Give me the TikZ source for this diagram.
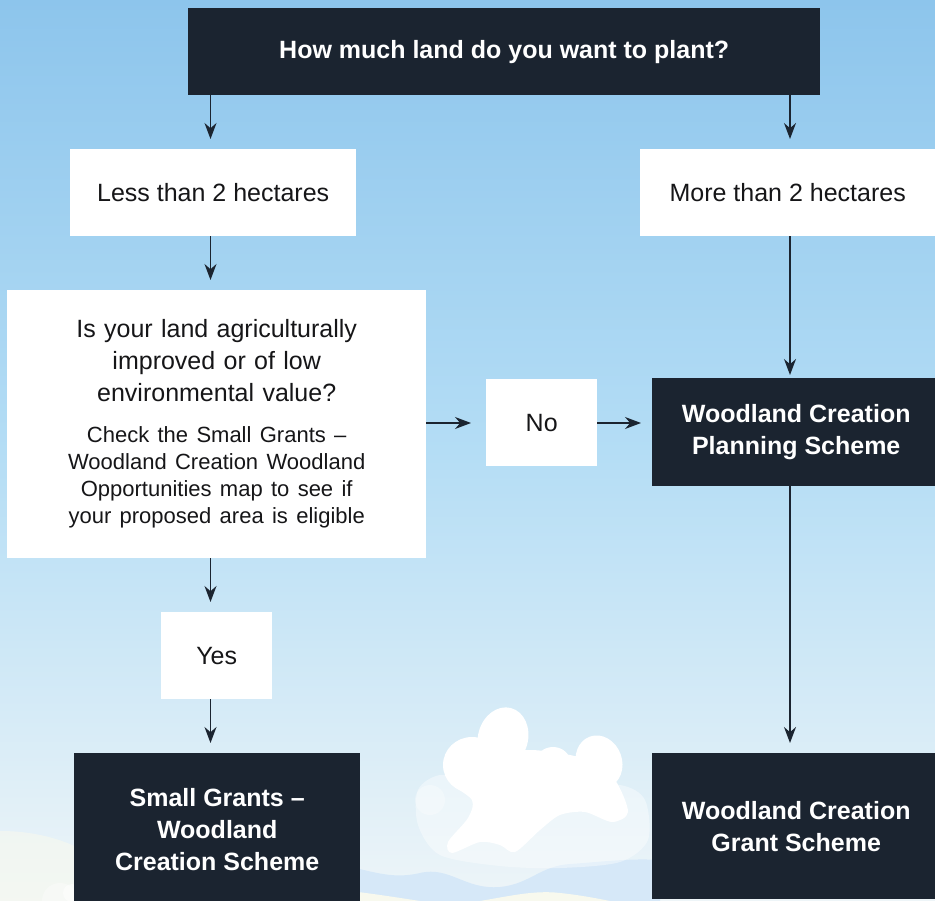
\documentclass[tikz,border=0pt]{standalone}
\usepackage{fontspec}
\setmainfont{Liberation Sans}
\usetikzlibrary{arrows.meta}
\definecolor{dark}{RGB}{27,36,48}
\definecolor{txt}{RGB}{22,22,24}
\definecolor{bgtop}{RGB}{141,197,236}
\definecolor{bgmid}{RGB}{180,221,245}
\definecolor{bgbot}{RGB}{238,245,248}
\definecolor{cream}{RGB}{248,249,238}
\definecolor{wave}{RGB}{214,232,248}
\begin{document}
\begin{tikzpicture}[x=1pt,y=-1pt,
  wbox/.style={fill=white, text=txt, inner sep=0pt, align=center,
    font=\fontsize{25}{32}\selectfont, anchor=north west},
  dbox/.style={fill=dark, text=white, inner sep=0pt, align=center,
    font=\bfseries\fontsize{25}{32}\selectfont, anchor=north west},
  arr/.style={draw=dark, line width=1.5pt, -{Stealth[length=16pt,width=12pt]}, shorten >=10pt}]
\useasboundingbox (0,0) rectangle (935,901);
\clip (0,0) rectangle (935,901);
% background
\shade[top color=bgtop, bottom color=bgbot, middle color=bgmid] (0,0) rectangle (935,901);
\fill[cream, opacity=0.6] (0,901) ellipse (120 and 70);
\fill[white, opacity=0.35] (60,901) circle (18);
\fill[white, opacity=0.5] (72,893) circle (9);
% bottom waves
\fill[wave] (340,901) -- (340,865) .. controls (370,870) and (390,880) .. (420,873)
  .. controls (450,866) and (465,890) .. (500,887)
  .. controls (530,884) and (540,866) .. (570,864)
  .. controls (600,862) and (630,858) .. (660,860) -- (660,901) -- cycle;
\fill[cream] (340,901) -- (340,890) .. controls (370,893) and (400,898) .. (420,901) -- cycle;
\fill[cream] (480,901) .. controls (510,896) and (535,890) .. (560,893)
  .. controls (580,895) and (600,899) .. (610,901) -- cycle;
% cloud outer faint layer
\fill[white, opacity=0.4] plot[smooth cycle] coordinates {(418,790) (440,775) (480,780) (560,785)
  (620,785) (645,800) (648,840) (620,862) (560,868) (500,866) (440,855) (418,825)};
\fill[white, opacity=0.3] (430,800) circle (15);
% cloud inner
\fill[white, rotate around={-15:(503,738)}] (503,738) ellipse (25 and 31);
\fill[white] (472,765) ellipse (29 and 28);
\fill[white] (553,764) ellipse (18 and 17);
\fill[white, rotate around={20:(599,762)}] (599,762) ellipse (23 and 27);
\fill[white] plot[smooth cycle] coordinates {(450,780) (480,760) (530,750) (590,760) (615,780)
  (628,812) (612,822) (585,812) (560,815) (540,830) (515,852) (500,845) (480,842) (452,853)
  (448,842) (468,818) (472,800)};
% nodes
\node[dbox, minimum width=632pt, minimum height=87pt] (top) at (188,8) {How much land do you want to plant?};
\node[wbox, minimum width=286pt, minimum height=87pt] (less) at (70,149) {Less than 2 hectares};
\node[wbox, minimum width=295pt, minimum height=87pt] (more) at (640,149) {More than 2 hectares};
\node[wbox, minimum width=419pt, minimum height=268pt, text width=400pt] (q) at (7,290)
  {{\fontsize{25}{32}\selectfont Is your land agriculturally\\improved or of low\\environmental value?\par}
   \vspace{14pt}
   {\fontsize{22}{27}\selectfont Check the Small Grants –\\Woodland Creation Woodland\\Opportunities map to see if\\your proposed area is eligible\par}};
\node[wbox, minimum width=111pt, minimum height=87pt] (no) at (486,379) {No};
\node[dbox, minimum width=288pt, minimum height=108pt] (plan) at (652,378) {Woodland Creation\\Planning Scheme};
\node[wbox, minimum width=111pt, minimum height=87pt] (yes) at (161,612) {Yes};
\node[dbox, minimum width=286pt, minimum height=152pt] (small) at (74,753) {Small Grants –\\Woodland\\Creation Scheme};
\node[dbox, minimum width=288pt, minimum height=146pt] (grant) at (652,753) {Woodland Creation\\Grant Scheme};
% columns
\coordinate (cl) at (210.5,0);
\coordinate (cr) at (790,0);
\coordinate (rowno) at (0,423);
% connectors
\draw[arr] (top.south -| cl) -- (less.north -| cl);
\draw[arr] (top.south -| cr) -- (more.north -| cr);
\draw[arr] (less.south -| cl) -- (q.north -| cl);
\draw[arr, shorten >=3pt] (more.south -| cr) -- (plan.north -| cr);
\draw[arr, shorten >=15pt] (q.east |- rowno) -- (no.west |- rowno);
\draw[arr, shorten >=11pt] (no.east |- rowno) -- (plan.west |- rowno);
\draw[arr] (q.south -| cl) -- (yes.north -| cl);
\draw[arr] (yes.south -| cl) -- (small.north -| cl);
\draw[arr] (plan.south -| cr) -- (grant.north -| cr);
\end{tikzpicture}
\end{document}
